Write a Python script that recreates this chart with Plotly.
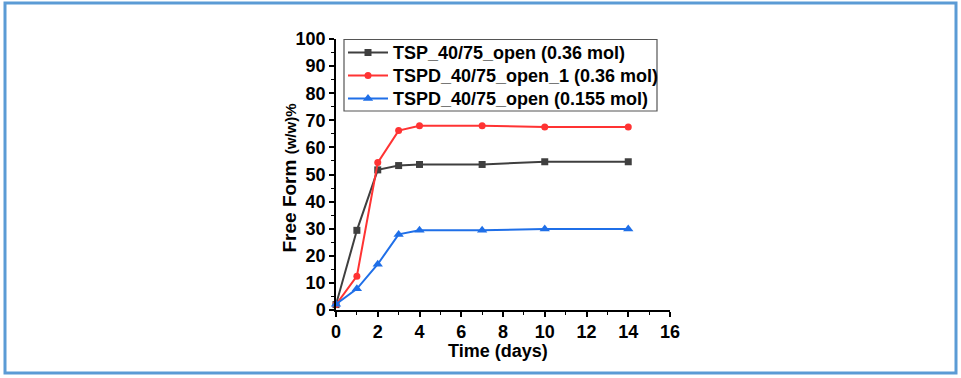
import plotly.graph_objects as go

days = [0, 1, 2, 3, 4, 7, 10, 14]
tsp_036 = [2.0, 29.4, 51.7, 53.3, 53.7, 53.7, 54.7, 54.7]
tspd1_036 = [2.0, 12.5, 54.4, 66.2, 68.0, 68.0, 67.5, 67.5]
tspd_0155 = [2.1, 7.8, 16.9, 27.9, 29.4, 29.4, 29.9, 29.9]

names = ["TSP_40/75_open (0.36 mol)", "TSPD_40/75_open_1 (0.36 mol)", "TSPD_40/75_open (0.155 mol)"]
colors = ["#3f3f3f", "#ff3333", "#1f6fe8"]
symbols = ["square", "circle", "triangle-up"]
sizes = [7, 7, 9]
series = [tsp_036, tspd1_036, tspd_0155]

x_ticks = list(range(0, 17, 2))
y_ticks = list(range(0, 101, 10))

FAM = "Liberation Sans, Arial, sans-serif"

# plot area in pixels: x 336..670, y 39..310
L, R, T, B = 336, 670, 39, 310
def px(x):
    return (x - L) / (R - L)
def py(y):
    return (B - y) / (B - T)

fig = go.Figure()
for name, ys, c, s, sz in zip(names, series, colors, symbols, sizes):
    fig.add_trace(go.Scatter(
        x=days, y=ys, name='<span style="font-size:18px">' + name + '</span>',
        mode="lines+markers",
        line=dict(color=c, width=2),
        marker=dict(symbol=s, size=sz, color=c),
        cliponaxis=False,
    ))

fig.update_layout(
    width=961, height=378,
    margin=dict(l=L, r=961 - R, t=T, b=378 - B),
    paper_bgcolor="white", plot_bgcolor="white",
    font=dict(family=FAM, size=16, color="black"),
    showlegend=True,
    legend=dict(
        x=px(343), y=py(36), xanchor="left", yanchor="top",
        bgcolor="rgba(0,0,0,0)", borderwidth=0,
        font=dict(family=FAM, size=15.4, color="black", weight="bold"),
        tracegroupgap=0, itemwidth=40,
    ),
    xaxis=dict(
        range=[0, 16], tickvals=x_ticks, ticktext=[str(v) for v in x_ticks],
        showgrid=False, zeroline=False, showline=True, linecolor="black", linewidth=1.5,
        ticks="outside", ticklen=5, tickwidth=1.5, tickcolor="black",
        tickfont=dict(family=FAM, size=18, color="black", weight="bold"),
        minor=dict(dtick=1, ticks="outside", ticklen=3, tickwidth=1, tickcolor="black", showgrid=False),
    ),
    yaxis=dict(
        range=[0, 100], tickvals=y_ticks, ticktext=[str(v) for v in y_ticks],
        showgrid=False, zeroline=False, showline=True, linecolor="black", linewidth=1.5,
        ticks="outside", ticklen=5, tickwidth=1.5, tickcolor="black",
        tickfont=dict(family=FAM, size=18, color="black", weight="bold"),
        minor=dict(dtick=5, ticks="outside", ticklen=3, tickwidth=1, tickcolor="black", showgrid=False),
    ),
    annotations=[
        dict(
            text='Free Form <span style="font-size:15px"><b>(w/w)%</b></span>',
            xref="paper", yref="paper", x=px(289.5), y=py(178),
            xanchor="center", yanchor="middle", textangle=-90, showarrow=False,
            font=dict(family=FAM, size=19, color="black", weight="bold"),
        ),
        dict(
            text="Time (days)",
            xref="paper", yref="paper", x=px(498), y=py(351),
            xanchor="center", yanchor="middle", showarrow=False,
            font=dict(family=FAM, size=18, color="black", weight="bold"),
        ),
    ],
    shapes=[
        dict(
            type="rect", xref="paper", yref="paper",
            x0=px(5), x1=px(956), y0=py(373), y1=py(3),
            line=dict(color="#5b9bd5", width=3), fillcolor="rgba(0,0,0,0)", layer="below",
        ),
        dict(
            type="rect", xref="paper", yref="paper",
            x0=px(344), x1=px(657), y0=py(111), y1=py(39.5),
            line=dict(color="#555555", width=1.2), fillcolor="white", layer="below",
        ),
    ],
)

fig.write_html("out.html", post_script="document.body.style.margin='0';",
               config={"displayModeBar": False})
